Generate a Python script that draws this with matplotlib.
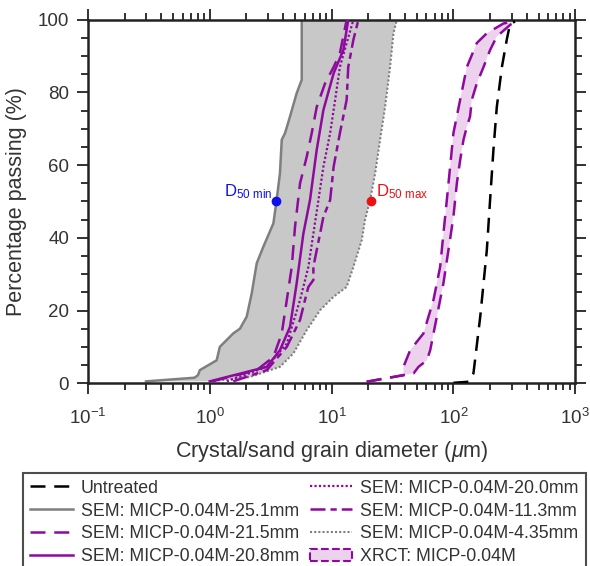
import numpy as np
import matplotlib
matplotlib.use("Agg")
import matplotlib.pyplot as plt
from matplotlib.ticker import MultipleLocator, LogLocator, NullFormatter
from matplotlib.patches import Patch
from matplotlib.lines import Line2D

plt.rcParams['font.family'] = ['Liberation Sans', 'DejaVu Sans']
plt.rcParams['mathtext.fontset'] = 'custom'
plt.rcParams['mathtext.rm'] = 'Liberation Sans'
plt.rcParams['mathtext.it'] = 'Liberation Sans:italic'

# diameter (um) vs percentage passing (%)
untreated_d = [100, 133, 146, 166, 188, 200, 213, 227, 250, 274, 292, 321]
untreated_p = [0.1, 0.4, 2.7, 18.3, 36.6, 50.4, 64.2, 76, 87, 94.5, 99, 99.5]

sem251_d = [0.30, 0.75, 0.80, 0.83, 1.14, 1.21, 1.56, 1.77, 2.01, 2.21, 2.43, 2.75, 3.33, 3.54, 3.77, 3.90, 4.15, 4.56, 5.17, 5.69, 5.69]
sem251_p = [0.5, 1.5, 2.2, 3.6, 6.3, 10, 13.7, 15, 18.3, 24.7, 33, 37.5, 44, 50.4, 57.8, 67, 68.8, 73.4, 79.8, 83.5, 100]

sem435_d = [1.0, 2.14, 3.77, 4.86, 6.25, 8.05, 10.4, 13.3, 15.1, 17.7, 18.8, 20.7, 22.8, 25.0, 27.5, 30.2, 32.2, 34.3]
sem435_p = [0.5, 1.7, 4.5, 8.2, 14.6, 20.1, 23.8, 26.5, 32, 39.4, 44.9, 50.4, 57.8, 67, 76, 87, 96.3, 100]

sem215_d = [1.05, 2.43, 3.33, 3.9, 4.29, 4.71, 5.01, 5.51, 6.25, 6.87, 7.55, 8.84, 10.4, 11.7, 13.3]
sem215_p = [0.5, 3.6, 7.2, 13.7, 22.9, 32, 43, 55, 62.3, 68.8, 76, 82.5, 87, 90.8, 100]

sem208_d = [1.0, 2.94, 3.77, 4.56, 5.17, 5.87, 6.65, 7.55, 8.57, 10.4, 12.5, 13.7]
sem208_p = [0.5, 4.5, 9.1, 15.5, 27.5, 41.2, 50.4, 64.2, 75.2, 85.3, 91.7, 100]

sem200_d = [1.38, 2.94, 4.29, 5.51, 6.45, 7.09, 7.80, 8.57, 9.73, 10.7, 11.7, 13.3, 15.1]
sem200_p = [0.5, 4.5, 10.9, 22.9, 32, 41.2, 50.4, 59.6, 68.8, 78, 87, 93.6, 100]

sem113_d = [1.56, 2.94, 4.29, 5.51, 6.05, 6.45, 7.09, 7.09, 7.55, 8.05, 8.57, 9.73, 10.4, 11.7, 13.3, 13.7, 15.1, 16.6]
sem113_p = [0.5, 3.6, 10, 17.4, 22.9, 26.5, 28.4, 32, 36.6, 41.2, 45.8, 50.4, 59.6, 68.8, 78, 87, 94.5, 100]

xrct_lo_d = [19.4, 38.9, 38.9, 44.2, 56.8, 68.6, 77.8, 82.8, 88.3, 94.0, 100, 113.6, 128.9, 155.6, 188, 258, 311]
xrct_lo_p = [0.4, 2.2, 4.5, 9.1, 13.7, 22.9, 32, 41.2, 50.4, 59.6, 68.8, 78, 87, 93.6, 96.3, 99, 99.5]

xrct_hi_d = [19.4, 47.1, 51.7, 60.6, 64.5, 73.1, 82.8, 91.0, 100, 106.7, 113.6, 121, 129, 137, 141.6, 155.6, 176.6, 200, 227, 292, 321]
xrct_hi_p = [0.4, 2.7, 4.5, 6.3, 9.1, 18.3, 27.5, 36.6, 45.8, 55, 61.4, 67, 70.6, 73.4, 78, 82.5, 87, 91.7, 95.4, 98.6, 99.5]

d50_min = (3.5, 50)
d50_max = (21.0, 50)

purple = '#8e0a9e'
grey = '#7f7f7f'
txt = '#333333'
dash = (0, (6, 3.5))
dashdot = (0, (6, 2, 2.5, 2))

fig = plt.figure(figsize=(5.9, 5.66), dpi=100)
ax = fig.add_axes([0.149, 0.323, 0.826, 0.642])

# shaded envelopes
ax.fill(sem251_d + sem435_d[::-1], sem251_p + sem435_p[::-1], color='#c8c8c8', lw=0, zorder=1)
ax.fill(xrct_lo_d + xrct_hi_d[::-1], xrct_lo_p + xrct_hi_p[::-1], color='#ecd2ec', lw=0, zorder=1)

ax.plot(untreated_d, untreated_p, color='k', ls=dash, lw=1.8, zorder=3)
ax.plot(sem251_d, sem251_p, color=grey, lw=1.8, zorder=2)
ax.plot(sem435_d, sem435_p, color=grey, ls=(0, (1, 1)), lw=1.5, zorder=2)
ax.plot(sem215_d, sem215_p, color=purple, ls=dash, lw=1.8, zorder=3)
ax.plot(sem208_d, sem208_p, color=purple, lw=1.8, zorder=3)
ax.plot(sem200_d, sem200_p, color=purple, ls=(0, (1, 1)), lw=1.6, zorder=3)
ax.plot(sem113_d, sem113_p, color=purple, ls=dashdot, lw=1.8, zorder=3)
ax.plot(xrct_lo_d, xrct_lo_p, color=purple, ls=dash, lw=1.8, zorder=3)
ax.plot(xrct_hi_d, xrct_hi_p, color=purple, ls=dash, lw=1.8, zorder=3)

ax.plot(*d50_min, 'o', color='#1010ee', ms=6, zorder=4)
ax.plot(*d50_max, 'o', color='#ee1010', ms=6, zorder=4)
ax.text(d50_min[0] * 0.93, 50, r'D$_{\mathregular{50\ min}}$', color='#1010ee', fontsize=12,
        ha='right', va='bottom')
ax.text(d50_max[0] * 1.1, 50, r'D$_{\mathregular{50\ max}}$', color='#ee1010', fontsize=12,
        ha='left', va='bottom')

ax.set_xscale('log')
ax.set_xlim(0.1, 1000)
ax.set_ylim(0, 100)
ax.yaxis.set_major_locator(MultipleLocator(20))
ax.yaxis.set_minor_locator(MultipleLocator(5))
ax.xaxis.set_major_locator(LogLocator(base=10))
ax.xaxis.set_minor_locator(LogLocator(base=10, subs=np.arange(2, 10)))
ax.xaxis.set_minor_formatter(NullFormatter())
ax.tick_params(which='both', direction='out', top=True, right=True, colors='#222222',
               labelcolor=txt, labelsize=13.5, width=1.3)
ax.tick_params(which='major', length=8)
ax.tick_params(which='minor', length=5)
ax.tick_params(axis='x', which='major', pad=10)
ax.tick_params(axis='y', which='major', pad=5.5)
for s in ax.spines.values():
    s.set_linewidth(1.8)
    s.set_color('#222222')

ax.set_xlabel(r'Crystal/sand grain diameter ($\mu$m)', fontsize=15.5, color=txt, labelpad=8)
ax.set_ylabel('Percentage passing (%)', fontsize=15.5, color=txt, labelpad=8)

handles = [
    Line2D([], [], color='k', ls=dash, lw=1.8),
    Line2D([], [], color=grey, lw=1.8),
    Line2D([], [], color=purple, ls=dash, lw=1.8),
    Line2D([], [], color=purple, lw=1.8),
    Line2D([], [], color=purple, ls=(0, (1, 1)), lw=1.6),
    Line2D([], [], color=purple, ls=dashdot, lw=1.8),
    Line2D([], [], color=grey, ls=(0, (1, 1)), lw=1.5),
    Patch(facecolor='#ecd2ec', edgecolor=purple, ls='--', lw=1.5),
]
labels = ['Untreated', 'SEM: MICP-0.04M-25.1mm', 'SEM: MICP-0.04M-21.5mm', 'SEM: MICP-0.04M-20.8mm',
          'SEM: MICP-0.04M-20.0mm', 'SEM: MICP-0.04M-11.3mm', 'SEM: MICP-0.04M-4.35mm', 'XRCT: MICP-0.04M']
leg = fig.legend(handles, labels, ncol=2, loc='upper left', bbox_to_anchor=(0.039, 0.165),
                 fontsize=12.8, frameon=True, fancybox=False, edgecolor='#222222',
                 handlelength=2.4, handletextpad=0.45, columnspacing=0.6, labelspacing=0.33,
                 borderpad=0.4, borderaxespad=0)
leg.get_frame().set_linewidth(1.5)
for t in leg.get_texts():
    t.set_color(txt)

fig.savefig('out.png', dpi=100)
